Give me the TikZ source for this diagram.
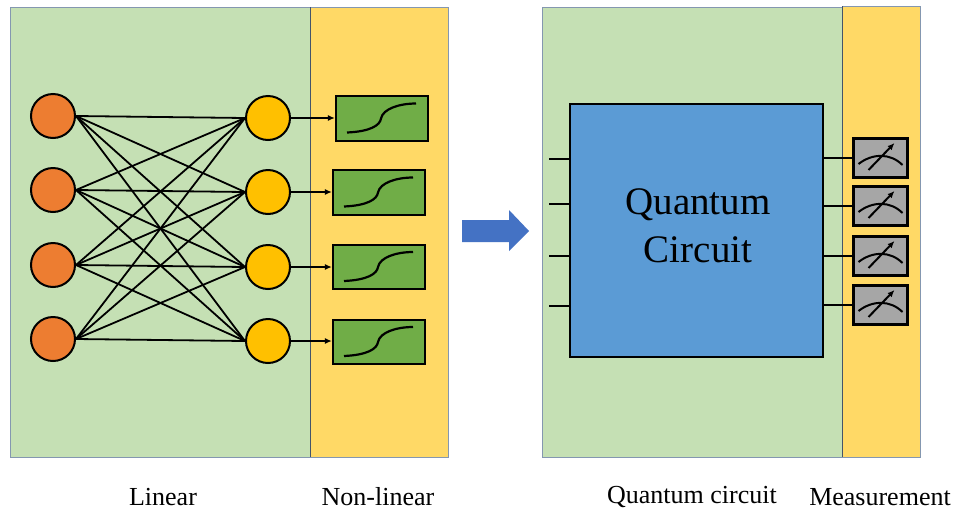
\documentclass[tikz,border=0pt]{standalone}
\usepackage{fontspec}
\setmainfont{Liberation Serif}
\usetikzlibrary{arrows.meta}
\definecolor{bggreen}{HTML}{C5E0B4}
\definecolor{bgyellow}{HTML}{FFD966}
\definecolor{inorange}{HTML}{ED7D31}
\definecolor{hidyellow}{HTML}{FFC000}
\definecolor{boxgreen}{HTML}{70AD47}
\definecolor{qcblue}{HTML}{5B9BD5}
\definecolor{arrowblue}{HTML}{4472C4}
\definecolor{metergray}{HTML}{A6A6A6}
\definecolor{panelborder}{HTML}{8497B0}
\definecolor{divider}{HTML}{44546A}
\begin{document}
\begin{tikzpicture}[x=1pt,y=-1pt,
  panelg/.style={fill=bggreen,draw=panelborder,line width=1pt},
  panely/.style={fill=bgyellow,draw=panelborder,line width=1pt},
  inneuron/.style={circle,fill=inorange,draw=black,line width=2pt,minimum size=44pt,inner sep=0pt},
  hidneuron/.style={circle,fill=hidyellow,draw=black,line width=2pt,minimum size=44pt,inner sep=0pt},
  actbox/.style={rectangle,fill=boxgreen,draw=black,line width=2.2pt,minimum width=92pt,minimum height=44pt,inner sep=0pt},
  meterbox/.style={rectangle,fill=metergray,draw=black,line width=2.2pt,minimum width=54pt,minimum height=39pt,inner sep=0pt},
  conn/.style={draw=black,line width=1.8pt},
  wire/.style={draw=black,line width=2.2pt},
  lbl/.style={font=\fontsize{26}{30}\selectfont,inner sep=0pt},
  sigmoid/.pic={\draw[line width=2.2pt] (-35,14) .. controls (-12,13) and (-2,7) .. (-1,0) .. controls (1,-10) and (18,-15) .. (34,-15);},
  meterpic/.pic={\draw[line width=2pt] (-22,6) .. controls (-8,-5) and (10,-5) .. (22,7);
     \draw[line width=2pt,-{Latex[length=7pt,width=6pt]}] (-12,12) -- (14,-15);}
]
\useasboundingbox (0,0) rectangle (958,512);
% panels
\fill[white] (0,0) rectangle (958,512);
\draw[panelg] (10,7) rectangle (310,457);
\draw[panely] (310,7) rectangle (448,457);
\draw[divider,line width=0.8pt] (310,7) -- (310,457);
\draw[panelg] (542,7) rectangle (842,457);
\draw[panely] (842,6) rectangle (920,457);
\draw[divider,line width=0.8pt] (842,6) -- (842,457);
% neurons
\foreach \i/\y in {1/116,2/190,3/265,4/339}{\node[inneuron] (o\i) at (53,\y) {};}
\foreach \i/\y in {1/118,2/192,3/267,4/341}{\node[hidneuron] (h\i) at (268,\y) {};}
\foreach \i in {1,...,4}{\foreach \j in {1,...,4}{\draw[conn] (o\i.east) -- (h\j.west);}}
% activation boxes
\node[actbox,minimum height=45pt] (s1) at (382,118.5) {};
\node[actbox,minimum height=45pt] (s2) at (379,192.5) {};
\node[actbox] (s3) at (379,267) {};
\node[actbox] (s4) at (379,342) {};
\foreach \i in {1,...,4}{
  \pic at (s\i.center) {sigmoid};
  \draw[conn,-{Latex[length=7pt,width=6pt]}] (h\i.east) -- (h\i.east -| s\i.west);
}
% big arrow
\fill[arrowblue] (462,220) -- (509,220) -- (509,210) -- (529,231) -- (509,251) -- (509,242) -- (462,242) -- cycle;
% quantum circuit
\node[rectangle,fill=qcblue,draw=black,line width=2.2pt,minimum width=253pt,minimum height=253pt,inner sep=0pt] (qc) at (696.5,230.5) {};
\node[align=center,font=\fontsize{39}{48}\selectfont,inner sep=0pt] (qct) at (698,226) {Quantum\\Circuit};
\foreach \i/\y in {1/159,2/204,3/256,4/306}{
  \coordinate (w\i) at (549,\y);
  \draw[wire] (w\i) -- (w\i -| qc.west);
}
\foreach \i/\y in {1/158,2/206,3/256,4/305}{
  \node[meterbox] (m\i) at (880.5,\y) {};
  \pic at (m\i.center) {meterpic};
  \draw[wire] (m\i.west -| qc.east) -- (m\i.west);
}
% labels
\node[lbl] (l1) at (163,497) {Linear};
\node[lbl] (l2) at (378,497) {Non-linear};
\node[lbl] (l3) at (692,497) {Quantum circuit};
\node[lbl] (l4) at (880,497) {Measurement};
\end{tikzpicture}
\end{document}
